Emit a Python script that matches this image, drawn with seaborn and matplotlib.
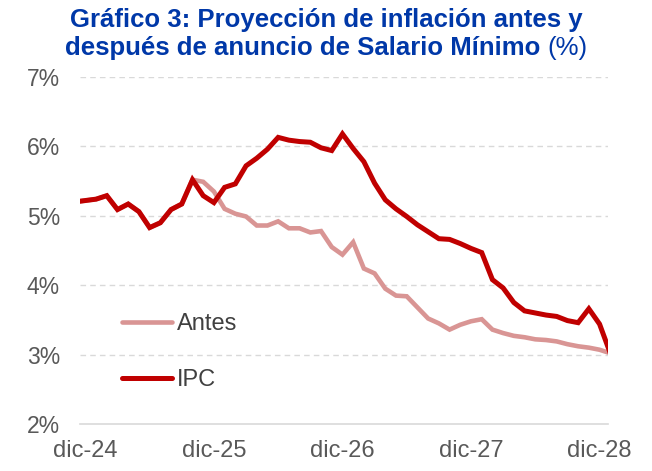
import numpy as np
import pandas as pd
import seaborn as sns
import matplotlib.pyplot as plt

# months counted from dic-24 (first value sits on the dic-24 tick, the rest mid-month)
meses = np.r_[0, np.arange(1, 50) + 0.5]

# IPC projection after the minimum wage announcement (%)
ipc = [5.21, 5.24, 5.29, 5.09, 5.17, 5.06, 4.83, 4.90, 5.09, 5.17,
       5.52, 5.29, 5.19, 5.41, 5.46, 5.72, 5.83, 5.96, 6.13, 6.09,
       6.07, 6.06, 5.98, 5.94, 6.18, 5.97, 5.78, 5.47, 5.23, 5.10,
       4.99, 4.87, 4.77, 4.67, 4.66, 4.60, 4.53, 4.47, 4.08, 3.96,
       3.75, 3.63, 3.60, 3.57, 3.55, 3.49, 3.46, 3.66, 3.44, 3.02]

# projection before the announcement (same history up to nov-25)
antes = [5.21, 5.24, 5.29, 5.09, 5.17, 5.06, 4.83, 4.90, 5.09, 5.17,
         5.52, 5.49, 5.35, 5.10, 5.03, 4.99, 4.86, 4.86, 4.92, 4.82,
         4.82, 4.76, 4.78, 4.55, 4.44, 4.62, 4.24, 4.17, 3.95, 3.85,
         3.84, 3.68, 3.52, 3.45, 3.36, 3.43, 3.48, 3.51, 3.36, 3.31,
         3.27, 3.25, 3.22, 3.21, 3.19, 3.15, 3.12, 3.10, 3.07, 3.02]

tick_pos = [0, 12, 24, 36, 48]
tick_labels = ["dic-24", "dic-25", "dic-26", "dic-27", "dic-28"]
y_ticks = [2, 3, 4, 5, 6, 7]

df = pd.DataFrame({"mes": meses, "IPC": ipc, "Antes": antes})

sns.set_style("white")
plt.rcParams["font.family"] = ["Liberation Sans", "DejaVu Sans"]
plt.rcParams["lines.solid_capstyle"] = "round"

fig = plt.figure(figsize=(6.52, 4.71), dpi=100)
ax = fig.add_axes([0.1227, 0.0998, 0.81, 0.7367])

sns.lineplot(data=df, x="mes", y="Antes", ax=ax, color="#D99594", linewidth=3.3,
             label="Antes", solid_joinstyle="miter")
sns.lineplot(data=df, x="mes", y="IPC", ax=ax, color="#C00000", linewidth=3.6,
             label="IPC", solid_joinstyle="miter")

ax.set_xlim(0, 49.3)
ax.set_ylim(2, 7)
# tick marks on the year boundaries, labels centred on the month
ax.set_xticks(tick_pos)
ax.set_xticklabels([])
ax.set_xticks([p + 0.5 for p in tick_pos], minor=True)
ax.set_xticklabels(tick_labels, minor=True)
ax.set_yticks(y_ticks)
ax.set_yticklabels([f"{v}%" for v in y_ticks])
ax.set_xlabel("")
ax.set_ylabel("")

# dashed grid lines, bottom axis in light grey
for v in y_ticks[1:]:
    ax.axhline(v, color="#D9D9D9", linestyle=(0, (4, 3)), linewidth=1.0, zorder=0)
for s in ["top", "right", "left"]:
    ax.spines[s].set_visible(False)
ax.spines["bottom"].set_color("#D9D9D9")
ax.spines["bottom"].set_linewidth(1.2)
ax.tick_params(axis="x", which="major", length=6, width=1.2, direction="out", color="#D9D9D9")
ax.tick_params(axis="x", which="minor", length=0, labelsize=17, labelcolor="#595959", pad=11.5)
ax.tick_params(axis="y", labelcolor="#595959", labelsize=16.5, length=0, pad=14.5)

leg = ax.legend(loc="lower left", bbox_to_anchor=(0.079, 0.095), frameon=False,
                fontsize=17, handlelength=2.12, handletextpad=0.2,
                labelspacing=1.45, borderpad=0, borderaxespad=0)
for t in leg.get_texts():
    t.set_color("#404040")
for h in leg.get_lines():
    h.set_solid_capstyle("round")

azul = "#0038A8"
fig.text(0.5, 0.943, "Gráfico 3: Proyección de inflación antes y",
         ha="center", va="baseline", fontsize=18.5, fontweight="bold", color=azul)
t1 = fig.text(0.5, 0.884, "después de anuncio de Salario Mínimo ",
              ha="center", va="baseline", fontsize=18.5, fontweight="bold", color=azul)
t2 = fig.text(0.5, 0.884, "(%)", ha="left", va="baseline", fontsize=18.5, color=azul)
fig.canvas.draw()
w1 = t1.get_window_extent().width / fig.bbox.width
w2 = t2.get_window_extent().width / fig.bbox.width
start = 0.5 - (w1 + w2) / 2
t1.set_ha("left")
t1.set_x(start)
t2.set_x(start + w1)

fig.savefig("out.png", dpi=100)
